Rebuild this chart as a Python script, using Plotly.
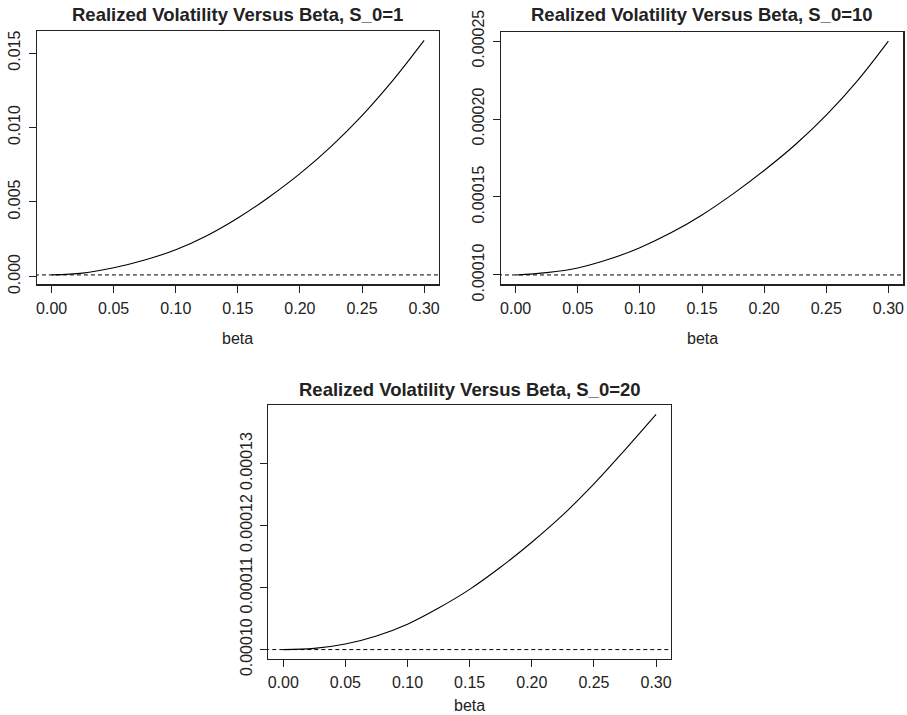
import plotly.graph_objects as go

# ---- data ----
beta = [0.0, 0.025, 0.05, 0.075, 0.10, 0.125, 0.15, 0.175, 0.20, 0.225, 0.25, 0.275, 0.30]
vol_s0_1 = [0.00010, 0.00022, 0.00058, 0.00110, 0.00179, 0.00273, 0.00392, 0.00532,
            0.00690, 0.00872, 0.01080, 0.01318, 0.01585]
vol_s0_10 = [0.0001000, 0.0001015, 0.0001045, 0.0001100, 0.0001175, 0.0001270, 0.0001385,
             0.0001520, 0.0001670, 0.0001835, 0.0002025, 0.0002245, 0.0002500]
vol_s0_20 = [0.0001000, 0.0001002, 0.0001009, 0.0001022, 0.0001041, 0.0001067, 0.0001097,
             0.0001133, 0.0001173, 0.0001217, 0.0001267, 0.0001322, 0.0001379]
baseline = 0.0001

titles = ["Realized Volatility Versus Beta, S_0=1",
          "Realized Volatility Versus Beta, S_0=10",
          "Realized Volatility Versus Beta, S_0=20"]
x_ticks = [0.00, 0.05, 0.10, 0.15, 0.20, 0.25, 0.30]
x_tick_labels = ["0.00", "0.05", "0.10", "0.15", "0.20", "0.25", "0.30"]
y_ticks_1 = [0.000, 0.005, 0.010, 0.015]
y_tick_labels_1 = ["0.000", "0.005", "0.010", "0.015"]
y_ticks_2 = [0.00010, 0.00015, 0.00020, 0.00025]
y_tick_labels_2 = ["0.00010", "0.00015", "0.00020", "0.00025"]
y_ticks_3 = [0.00010, 0.00011, 0.00012, 0.00013]
y_tick_labels_3 = ["0.00010", "0.00011", "0.00012", "0.00013"]
x_label = "beta"

W, H = 907, 715
FONT = "Liberation Sans, Arial, Helvetica, sans-serif"
INK = "#222222"

# panel boxes in pixels (left, right, top, bottom)
boxes = [(36.7, 439.0, 31.0, 284.3),
         (500.7, 903.3, 31.7, 284.3),
         (268.3, 671.0, 405.0, 659.0)]


def r_range(lo, hi):
    span = hi - lo
    return [lo - 0.04 * span, hi + 0.04 * span]


series = [vol_s0_1, vol_s0_10, vol_s0_20]
yticks = [(y_ticks_1, y_tick_labels_1), (y_ticks_2, y_tick_labels_2), (y_ticks_3, y_tick_labels_3)]

fig = go.Figure()
annotations = []
for i, (vals, box, (yt, ytl), title) in enumerate(zip(series, boxes, yticks, titles)):
    n = "" if i == 0 else str(i + 1)
    xa, ya = "x" + n, "y" + n
    fig.add_trace(go.Scatter(x=beta, y=vals, mode="lines",
                             line=dict(color="black", width=1.1, shape="spline", smoothing=1.0),
                             xaxis=xa, yaxis=ya, showlegend=False, hoverinfo="skip"))
    fig.add_trace(go.Scatter(x=[beta[0] - 1, beta[-1] + 1], y=[baseline, baseline], mode="lines",
                             line=dict(color="black", width=1, dash="4px,3px"),
                             xaxis=xa, yaxis=ya, showlegend=False, hoverinfo="skip"))
    l, r, t, b = box
    axis_common = dict(showgrid=False, zeroline=False, showline=True, mirror=True, linecolor=INK,
                       linewidth=1.2, ticks="outside", ticklen=7, tickwidth=1, tickcolor=INK,
                       automargin=False, fixedrange=True,
                       tickfont=dict(family=FONT, size=16, color=INK))
    fig.layout["xaxis" + n] = dict(axis_common, domain=[l / W, r / W], range=r_range(min(beta), max(beta)),
                                   tickvals=x_ticks, ticktext=x_tick_labels, anchor=ya,
                                   ticklabelstandoff=2)
    fig.layout["yaxis" + n] = dict(axis_common, domain=[1 - b / H, 1 - t / H], range=r_range(min(vals), max(vals)),
                                   tickvals=yt, ticktext=ytl, tickangle=-90, anchor=xa,
                                   ticklabelstandoff=2)
    cx = (l + r) / 2
    title_y = 15 if i < 2 else 389
    annotations.append(dict(text="<b>%s</b>" % title, x=cx / W, y=1 - title_y / H,
                            xref="paper", yref="paper", showarrow=False, xanchor="center", yanchor="middle",
                            font=dict(family=FONT, size=18.5, color=INK)))
    label_y = b + (54 if i < 2 else 46)
    annotations.append(dict(text=x_label, x=cx / W, y=1 - label_y / H, xref="paper", yref="paper",
                            showarrow=False, xanchor="center", yanchor="middle",
                            font=dict(family=FONT, size=16, color=INK)))

fig.update_layout(width=W, height=H, margin=dict(l=0, r=0, t=0, b=0, pad=0, autoexpand=False),
                  paper_bgcolor="white", plot_bgcolor="white", annotations=annotations,
                  showlegend=False, hovermode=False)
fig.write_html("out.html", config={"displayModeBar": False, "staticPlot": True},
               post_script="document.body.style.margin='0px';document.body.style.overflow='hidden';")
